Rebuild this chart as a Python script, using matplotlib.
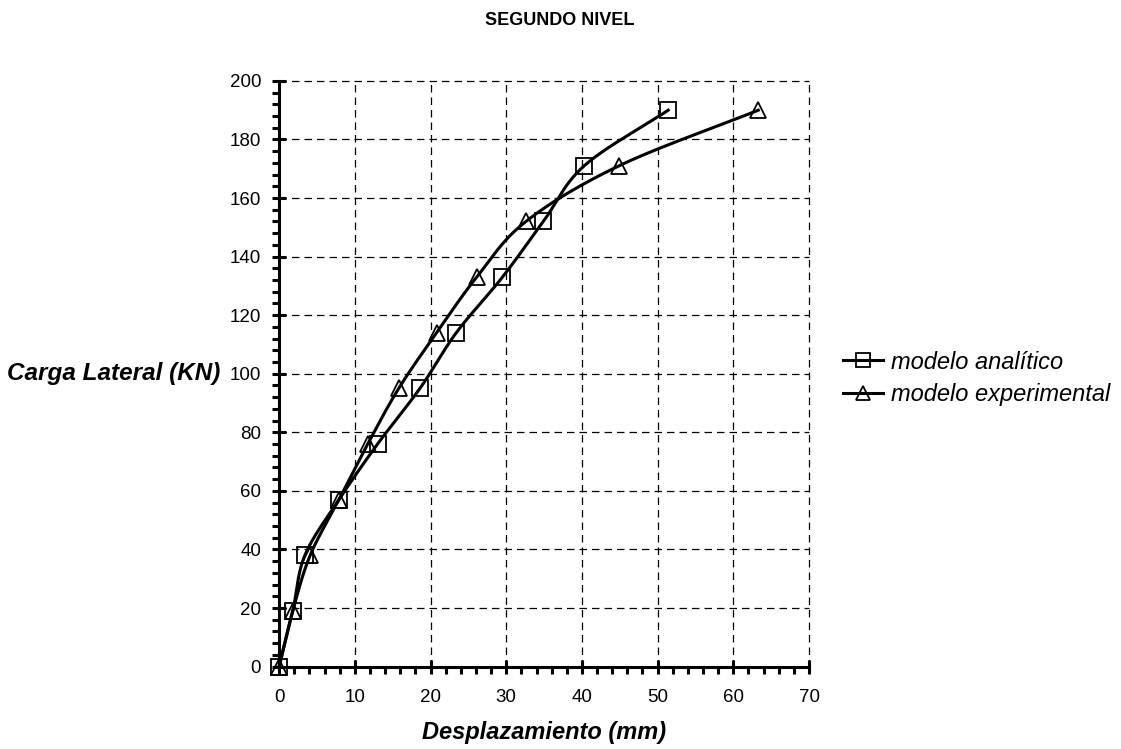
import numpy as np
import matplotlib
matplotlib.use("Agg")
from matplotlib import pyplot as plt
from matplotlib.ticker import MultipleLocator

# load levels (kN) shared by both series
carga = [0, 19, 38, 57, 76, 95, 114, 133, 152, 171, 190]
desp_analitico = [0, 1.8, 3.4, 7.9, 13.0, 18.6, 23.4, 29.5, 34.9, 40.3, 51.4]
desp_experimental = [0, 1.8, 4.1, 7.9, 11.7, 15.8, 20.8, 26.1, 32.6, 44.9, 63.3]
series_names = ["modelo analítico", "modelo experimental"]


def smooth(x, y, n=30):
    # catmull-rom through the points, like excel's smoothed line
    p = np.column_stack([x, y]).astype(float)
    p = np.vstack([2 * p[0] - p[1], p, 2 * p[-1] - p[-2]])
    t = np.linspace(0, 1, n)[:, None]
    out = []
    for i in range(1, len(p) - 2):
        p0, p1, p2, p3 = p[i - 1], p[i], p[i + 1], p[i + 2]
        seg = 0.5 * ((2 * p1) + (-p0 + p2) * t + (2 * p0 - 5 * p1 + 4 * p2 - p3) * t ** 2
                     + (-p0 + 3 * p1 - 3 * p2 + p3) * t ** 3)
        out.append(seg)
    out = np.vstack(out)
    return out[:, 0], out[:, 1]


def main():
    plt.rcParams['font.family'] = ['Liberation Sans', 'DejaVu Sans']
    fig = plt.figure(figsize=(11.21, 7.49), dpi=100)
    ax = fig.add_axes([0.249, 0.110, 0.4727, 0.782])

    handles = []
    for xs, marker in [(desp_analitico, 's'), (desp_experimental, '^')]:
        sx, sy = smooth(xs, carga)
        ax.plot(sx, sy, color='black', lw=2.2, zorder=3, clip_on=False)
        ax.plot(xs, carga, ls='none', marker=marker, ms=12, mfc='none', mec='black',
                mew=1.3, zorder=4, clip_on=False)
        h, = ax.plot([], [], color='black', lw=2.2, marker=marker, ms=10.5, mfc='none',
                     mec='black', mew=1.3)
        handles.append(h)

    ax.set_xlim(0, 70)
    ax.set_ylim(0, 200)
    ax.xaxis.set_major_locator(MultipleLocator(10))
    ax.xaxis.set_minor_locator(MultipleLocator(2))
    ax.yaxis.set_major_locator(MultipleLocator(20))
    ax.yaxis.set_minor_locator(MultipleLocator(4))
    ax.grid(True, which='major', color='black', ls=(0, (6, 4)), lw=0.9)
    ax.set_axisbelow(True)
    for gl in ax.get_xgridlines() + ax.get_ygridlines():
        gl.set_clip_on(False)

    for s in ['top', 'right']:
        ax.spines[s].set_visible(False)
    for s in ['left', 'bottom']:
        ax.spines[s].set_linewidth(2.2)
    ax.tick_params(which='major', direction='inout', length=10, width=2.2, labelsize=13.5)
    ax.tick_params(which='minor', direction='out', length=5, width=2.2)
    ax.tick_params(axis='x', which='major', pad=11)
    ax.tick_params(axis='y', which='major', pad=8)

    ax.set_xlabel("Desplazamiento (mm)", fontsize=17, fontweight='bold', fontstyle='italic', labelpad=11)
    ax.set_ylabel("Carga Lateral (KN)", fontsize=17.5, fontweight='bold', fontstyle='italic',
                  rotation=0, ha='right', va='center')
    ax.yaxis.set_label_coords(-0.111, 0.5)
    fig.text(0.4995, 0.973, "SEGUNDO NIVEL", fontsize=13, fontweight='bold', ha='center', va='center')

    fig.legend(handles, series_names, loc='center left', bbox_to_anchor=(0.7333, 0.4947),
               frameon=False, prop={'style': 'italic', 'size': 17},
               handlelength=1.7, handletextpad=0.3, labelspacing=0.42)

    fig.savefig('out.png', dpi=100)


if __name__ == '__main__':
    main()
